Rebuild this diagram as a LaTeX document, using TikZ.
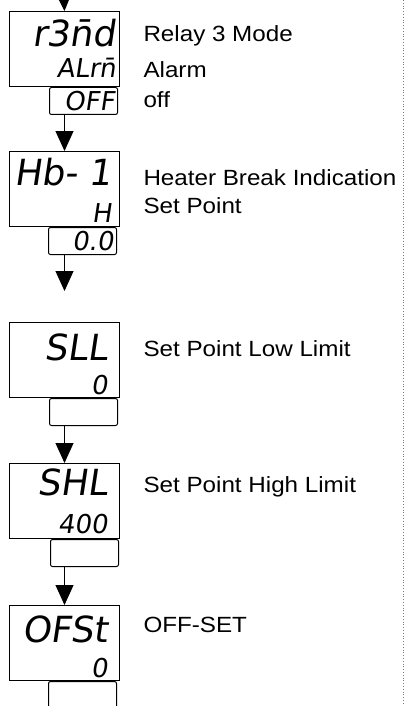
\documentclass[tikz,border=0pt]{standalone}
\usepackage{fontspec}
\setmainfont{Liberation Sans}[FakeStretch=1.1]
\newfontfamily\segfont{DejaVu Sans}[FakeSlant=0.15]
\usetikzlibrary{arrows.meta,positioning,calc}
\newcommand{\segbig}{\segfont\fontsize{36}{36}\selectfont}
\newcommand{\segsmall}{\segfont\fontsize{26}{26}\selectfont}
\begin{document}
\begin{tikzpicture}[x=1pt,y=1pt,line width=1pt,
  flow/.style={-{Triangle[width=18pt,length=20pt]}},
  disp/.style={draw,minimum width=110pt,minimum height=75pt,anchor=north west,inner sep=0pt},
  val/.style={draw,rounded corners=2pt,anchor=north east,minimum height=27pt,text width=62pt,inner xsep=3pt,inner ysep=0pt,align=right,font=\segsmall},
  segtop/.style={anchor=base east,inner sep=0pt,font=\segbig},
  seglow/.style={anchor=base east,inner sep=0pt,font=\segsmall},
  lbl/.style={anchor=base west,inner sep=0pt,font=\fontsize{22}{28}\selectfont}]
\clip (0,0) rectangle (406,-706);
% display boxes
\node[disp] (rmd) at (9,-11) {};
\node[disp] (hb) at (9,-151) {};
\node[disp] (sll) at (9,-322) {};
\node[disp] (shl) at (9,-463) {};
\node[disp] (ofs) at (9,-605) {};
% what the displays read
\node[segtop] (rmdA) at ($(rmd.north east)+(-4,-36)$) {r3n̄d};
\node[seglow] (rmdB) at ($(rmd.south east)+(-4,9)$) {ALrn̄};
\node[segtop] (hbA) at ($(hb.north east)+(-8,-34)$) {Hb- 1};
\node[seglow] (hbB) at ($(hb.south east)+(-8,5)$) {H};
\node[segtop] (sllA) at ($(sll.north east)+(-12,-38)$) {SLL};
\node[seglow] (sllB) at ($(sll.south east)+(-12,4)$) {0};
\node[segtop] (shlA) at ($(shl.north east)+(-12,-32)$) {SHL};
\node[seglow] (shlB) at ($(shl.south east)+(-12,6)$) {400};
\node[segtop] (ofsA) at ($(ofs.north east)+(-12,-37)$) {OFSt};
\node[seglow] (ofsB) at ($(ofs.south east)+(-12,4)$) {0};
% value boxes
\node[val] (rmdv) at ($(rmd.south east)+(-2,0)$) {OFF};
\node[val] (hbv) at ($(hb.south east)+(-3,0)$) {0.0};
\node[val] (sllv) at ($(sll.south east)+(-2,0)$) {};
\node[val] (shlv) at ($(shl.south east)+(-1,0)$) {};
\node[val,minimum height=40pt] (ofsv) at ($(ofs.south east)+(-3,0)$) {};
% descriptions
\node[lbl] (rmdt) at (143,-42) {Relay 3 Mode};
\node[lbl] (rmdt2) at (143,-78) {Alarm};
\node[lbl] (rmdt3) at (143,-107) {off};
\node[lbl] (hbt) at (143,-185) {Heater Break Indication};
\node[lbl] (hbt2) at (143,-213) {Set Point};
\node[lbl] (sllt) at (143,-356) {Set Point Low Limit};
\node[lbl] (shlt) at (143,-492) {Set Point High Limit};
\node[lbl] (ofst) at (143,-632) {OFF-SET};
% flow
\coordinate (in) at (64,0);
\coordinate (hbend) at ($(hbv.south -| hb.north)+(0,-36)$);
\draw[flow] (in) -- (rmd.north);
\draw[flow] (rmdv.south -| rmd.north) -- (hb.north);
\draw[flow] (hbv.south -| hb.north) -- (hbend);
\draw[flow] (sllv.south -| sll.north) -- (shl.north);
\draw[flow] (shlv.south -| shl.north) -- (ofs.north);
\draw[dotted,gray,line width=0.8pt] (403,0) -- (403,-706);
\end{tikzpicture}
\end{document}
